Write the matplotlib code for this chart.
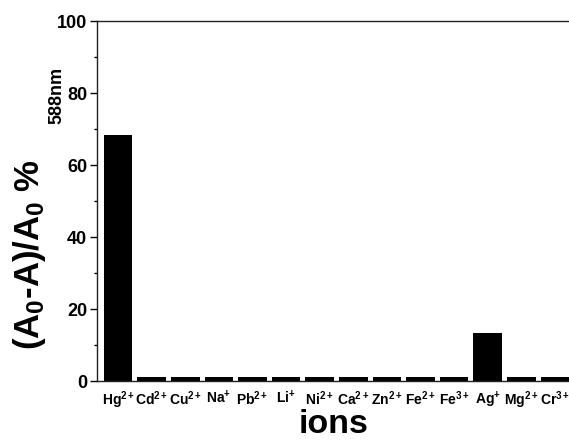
"""Bar chart of absorbance response for different metal ions."""

import matplotlib

matplotlib.use("Agg")
import matplotlib.pyplot as plt
import numpy as np

ions = ["Hg$^{2+}$", "Cd$^{2+}$", "Cu$^{2+}$", "Na$^{+}$", "Pb$^{2+}$", "Li$^{+}$", "Ni$^{2+}$",
        "Ca$^{2+}$", "Zn$^{2+}$", "Fe$^{2+}$", "Fe$^{3+}$", "Ag$^{+}$", "Mg$^{2+}$", "Cr$^{3+}$"]
response = [68.2, 1.0, 1.0, 1.0, 1.0, 1.0, 1.0, 1.0, 1.0, 1.0, 1.0, 13.3, 1.0, 1.0]
y_ticks = [0, 20, 40, 60, 80, 100]

plt.rcParams["font.family"] = ["Liberation Sans", "DejaVu Sans"]
plt.rcParams["font.weight"] = "bold"
plt.rcParams["mathtext.fontset"] = "custom"
plt.rcParams["mathtext.rm"] = "Liberation Sans:bold"
plt.rcParams["mathtext.it"] = "Liberation Sans:bold"
plt.rcParams["mathtext.bf"] = "Liberation Sans:bold"
plt.rcParams["mathtext.default"] = "rm"

fig = plt.figure(figsize=(5.69, 4.41), dpi=100)
ax = fig.add_axes([97 / 569, 60 / 441, 479 / 569, 360 / 441])

x = np.arange(len(ions))
ax.bar(x, response, width=0.85, color="black")

ax.set_xlim(-0.625, len(ions) - 0.375)
ax.set_ylim(0, 100)
ax.set_yticks(y_ticks)
ax.set_yticks(np.arange(10, 100, 20), minor=True)
ax.set_xticks(x)
ax.set_xticklabels(ions, fontsize=10, fontweight="bold")
ax.tick_params(axis="x", length=0, pad=6)
ax.tick_params(axis="y", which="major", direction="out", length=5, width=1, labelsize=13, pad=2)
ax.tick_params(axis="y", which="minor", direction="out", length=2.5, width=1)
for side in ["left", "bottom", "top", "right"]:
    ax.spines[side].set_linewidth(1.0)
    ax.spines[side].set_color("#222222")

fig.text(334 / 569, 1 / 441, "ions", fontsize=24.5, fontweight="bold",
         ha="center", va="bottom")
fig.text(30 / 569, 1 - 255 / 441, "(A$_0$-A)/A$_0$ %", rotation=90, fontsize=25,
         fontweight="bold", ha="center", va="center")
fig.text(57 / 569, 1 - 95 / 441, "588nm", rotation=90, fontsize=13,
         fontweight="bold", ha="center", va="center")

plt.savefig("out.png", dpi=100)
plt.close()
